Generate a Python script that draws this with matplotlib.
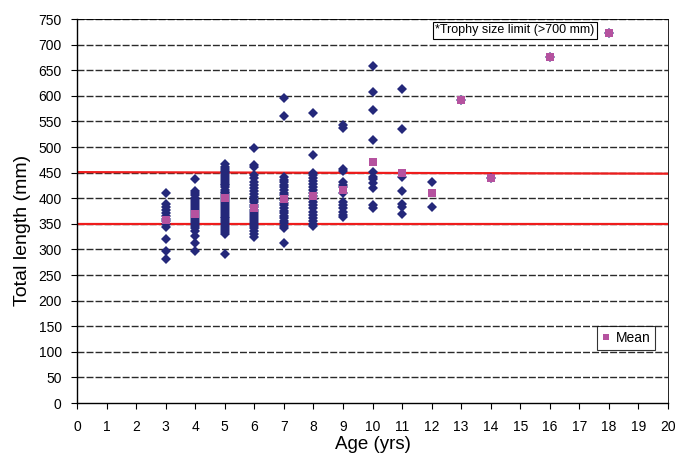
import numpy as np
import matplotlib
matplotlib.use("Agg")
import matplotlib.pyplot as plt

plt.rcParams['font.family'] = ['Liberation Sans', 'DejaVu Sans']

# individual fish (age in yrs, total length in mm)
age3 = [410, 388, 383, 378, 372, 366, 360, 355, 350, 343, 320, 296, 282]
age4 = [438, 415, 410, 406, 401, 397, 393, 389, 385, 381, 377, 373, 369, 365,
        361, 357, 353, 349, 345, 341, 336, 326, 313, 297]
age5 = [467, 462, 458, 454, 451, 447, 443, 439, 436, 432, 428, 425, 421, 417,
        413, 410, 406, 402, 398, 395, 391, 387, 383, 379, 376, 372, 368, 364,
        361, 357, 353, 349, 346, 342, 338, 334, 330, 291]
age6 = [498, 465, 461, 445, 440, 432, 426, 420, 414, 408, 402, 397, 392, 387,
        382, 378, 374, 370, 366, 362, 358, 354, 350, 346, 342, 336, 330, 324]
age7 = [596, 560, 441, 436, 431, 426, 421, 416, 411, 406, 401, 396, 391, 386,
        381, 376, 371, 366, 361, 356, 351, 346, 342, 313]
age8 = [566, 485, 449, 445, 440, 434, 428, 422, 416, 410, 404, 398, 392, 386,
        380, 374, 368, 362, 356, 350, 345]
age9 = [543, 538, 458, 454, 432, 426, 422, 410, 393, 386, 380, 374, 368, 363]
age10 = [658, 607, 573, 513, 452, 442, 438, 430, 420, 386, 381]
age11 = [613, 535, 442, 414, 389, 383, 369]
age12 = [432, 383]
age13 = [592]
age14 = [439]
age16 = [676]
age18 = [723]

fish = {3: age3, 4: age4, 5: age5, 6: age6, 7: age7, 8: age8, 9: age9,
        10: age10, 11: age11, 12: age12, 13: age13, 14: age14, 16: age16,
        18: age18}

mean_ages = [3, 4, 5, 6, 7, 8, 9, 10, 11, 12, 13, 14, 16, 18]
mean_len = [357, 369, 400, 380, 398, 405, 416, 471, 449, 410, 592, 439, 676, 723]

slot_x = [0, 20]
slot_upper = [451, 448]
slot_lower = [350, 350]

fig = plt.figure(figsize=(6.78, 4.54), dpi=100)
ax = fig.add_axes([0.1136, 0.1123, 0.8717, 0.8457])

for y in range(50, 751, 50):
    ax.axhline(y, color='#2a2a2a', lw=1.0, ls=(0, (5, 1.5)), zorder=1)

ax.plot(slot_x, slot_upper, color='#ee1c1c', lw=1.6, zorder=2)
ax.plot(slot_x, slot_lower, color='#ee1c1c', lw=1.6, zorder=2)

xs, ys = [], []
for a, vals in fish.items():
    xs += [a] * len(vals)
    ys += vals
ax.plot(xs, ys, 'D', color='#24287a', ms=5, mew=0, zorder=3)
ax.plot(mean_ages, mean_len, 's', color='#b5529f', ms=5.5, mew=0, zorder=4,
        label='Mean')

ax.set_xlim(0, 20)
ax.set_ylim(0, 750)
ax.set_xticks(range(0, 21))
ax.set_yticks(range(0, 751, 50))
ax.tick_params(labelsize=10, length=4, direction='out')
ax.tick_params(axis='y', pad=7)
ax.tick_params(axis='x', pad=8)
for s in ['top', 'right']:
    ax.spines[s].set_linewidth(0.6)
ax.spines['left'].set_linewidth(1.0)
ax.spines['bottom'].set_linewidth(1.0)

ax.set_xlabel('Age (yrs)', fontsize=13.5, labelpad=2)
ax.set_ylabel('Total length (mm)', fontsize=14)
ax.yaxis.set_label_coords(-0.078, 0.45)

ax.text(14.82, 728, '*Trophy size limit (>700 mm)', fontsize=9,
        ha='center', va='center',
        bbox=dict(boxstyle='square,pad=0.2', fc='white', ec='black', lw=0.8))

leg = ax.legend(loc='lower right', bbox_to_anchor=(0.978, 0.138),
                fontsize=10, frameon=True, fancybox=False, handlelength=0.6,
                handletextpad=0.4, borderpad=0.35, borderaxespad=0,
                markerscale=0.75)
leg.get_frame().set_edgecolor('black')
leg.get_frame().set_linewidth(0.8)

fig.savefig('out.png', dpi=100)
